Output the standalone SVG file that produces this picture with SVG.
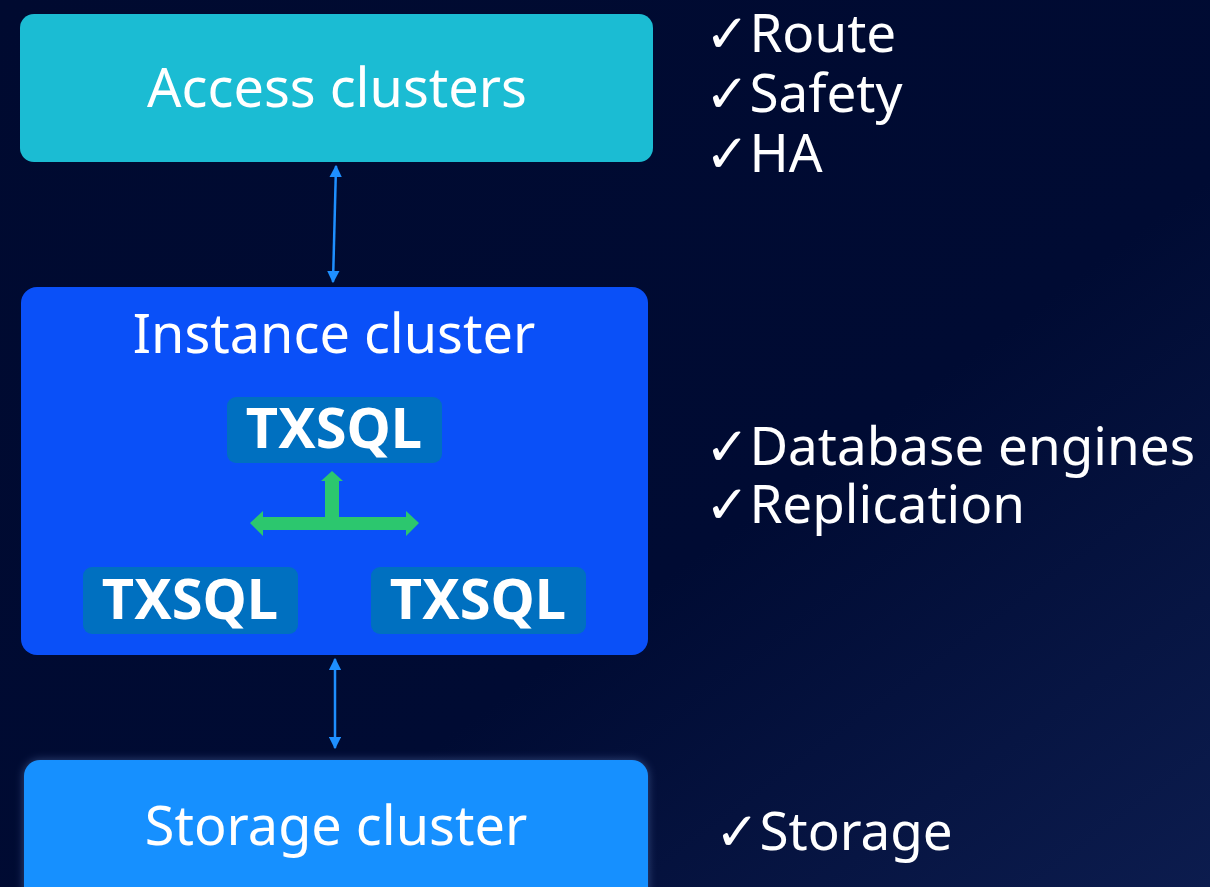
<svg xmlns="http://www.w3.org/2000/svg" width="1210" height="887" viewBox="0 0 1210 887">
<defs>
<linearGradient id="bg" x1="0" y1="0" x2="1" y2="1">
<stop offset="0" stop-color="#000a30"/>
<stop offset="0.6" stop-color="#000b33"/>
<stop offset="1" stop-color="#0c1c4e"/>
</linearGradient>
<marker id="ah" viewBox="0 0 10 10" refX="9" refY="5" markerWidth="5" markerHeight="5" orient="auto-start-reverse" markerUnits="strokeWidth">
<path d="M0,0 L10,5 L0,10 z" fill="#1e8fff"/>
</marker>
<filter id="glow" x="-10%" y="-20%" width="120%" height="140%">
<feGaussianBlur stdDeviation="5"/>
</filter>
</defs>
<style>
.lbl{font-family:"Noto Sans","Open Sans","DejaVu Sans",sans-serif;fill:#fff;font-size:54px}
.bold{font-family:"Noto Sans","Open Sans","DejaVu Sans",sans-serif;fill:#fff;font-size:56px;font-weight:bold}
.side{font-family:"Noto Sans","DejaVu Sans",sans-serif;fill:#fff;font-size:53px}
.conn{stroke:#1e8fff;stroke-width:2.5;fill:none}
.db{fill:#0070c0}
</style>
<rect width="1210" height="887" fill="url(#bg)"/>

<g id="access">
<rect x="20" y="14" width="633" height="148" rx="14" fill="#1bbcd3"/>
<text class="lbl" x="337" y="107" text-anchor="middle">Access clusters</text>
</g>

<g id="instance">
<rect x="21" y="287" width="627" height="368" rx="16" fill="#0a50f8"/>
<text class="lbl" x="334" y="353" text-anchor="middle">Instance cluster</text>
</g>

<g id="txsql-top">
<rect class="db" x="227" y="397" width="215" height="66" rx="9"/>
<text class="bold" x="334" y="448" text-anchor="middle">TXSQL</text>
</g>
<g id="txsql-left">
<rect class="db" x="83" y="567" width="215" height="67" rx="9"/>
<text class="bold" x="190" y="619" text-anchor="middle">TXSQL</text>
</g>
<g id="txsql-right">
<rect class="db" x="371" y="567" width="215" height="67" rx="9"/>
<text class="bold" x="478" y="619" text-anchor="middle">TXSQL</text>
</g>

<g id="storage">
<rect x="24" y="760" width="624" height="150" rx="16" fill="#8fb8ff" opacity="0.35" filter="url(#glow)"/>
<rect x="24" y="760" width="624" height="150" rx="16" fill="#1690ff"/>
<text class="lbl" x="336" y="845" text-anchor="middle">Storage cluster</text>
</g>

<g id="notes">
<text class="side"><tspan x="705" y="52">✓Route</tspan><tspan x="705" y="112">✓Safety</tspan><tspan x="705" y="172">✓HA</tspan></text>
<text class="side"><tspan x="705" y="465">✓Database engines</tspan><tspan x="705" y="523">✓Replication</tspan></text>
<text class="side" x="715" y="850">✓Storage</text>
</g>

<g id="connectors">
<line class="conn" x1="336" y1="166" x2="333" y2="282" marker-start="url(#ah)" marker-end="url(#ah)"/>
<line class="conn" x1="335" y1="659" x2="335" y2="748" marker-start="url(#ah)" marker-end="url(#ah)"/>
<path d="M332,471 L343,481 L339,481 L339,517 L406,517 L406,511 L419,523 L406,536 L406,530 L263,530 L263,536 L250,523 L263,511 L263,517 L325,517 L325,481 L321,481 Z" fill="#2cc76e"/>
</g>
</svg>
